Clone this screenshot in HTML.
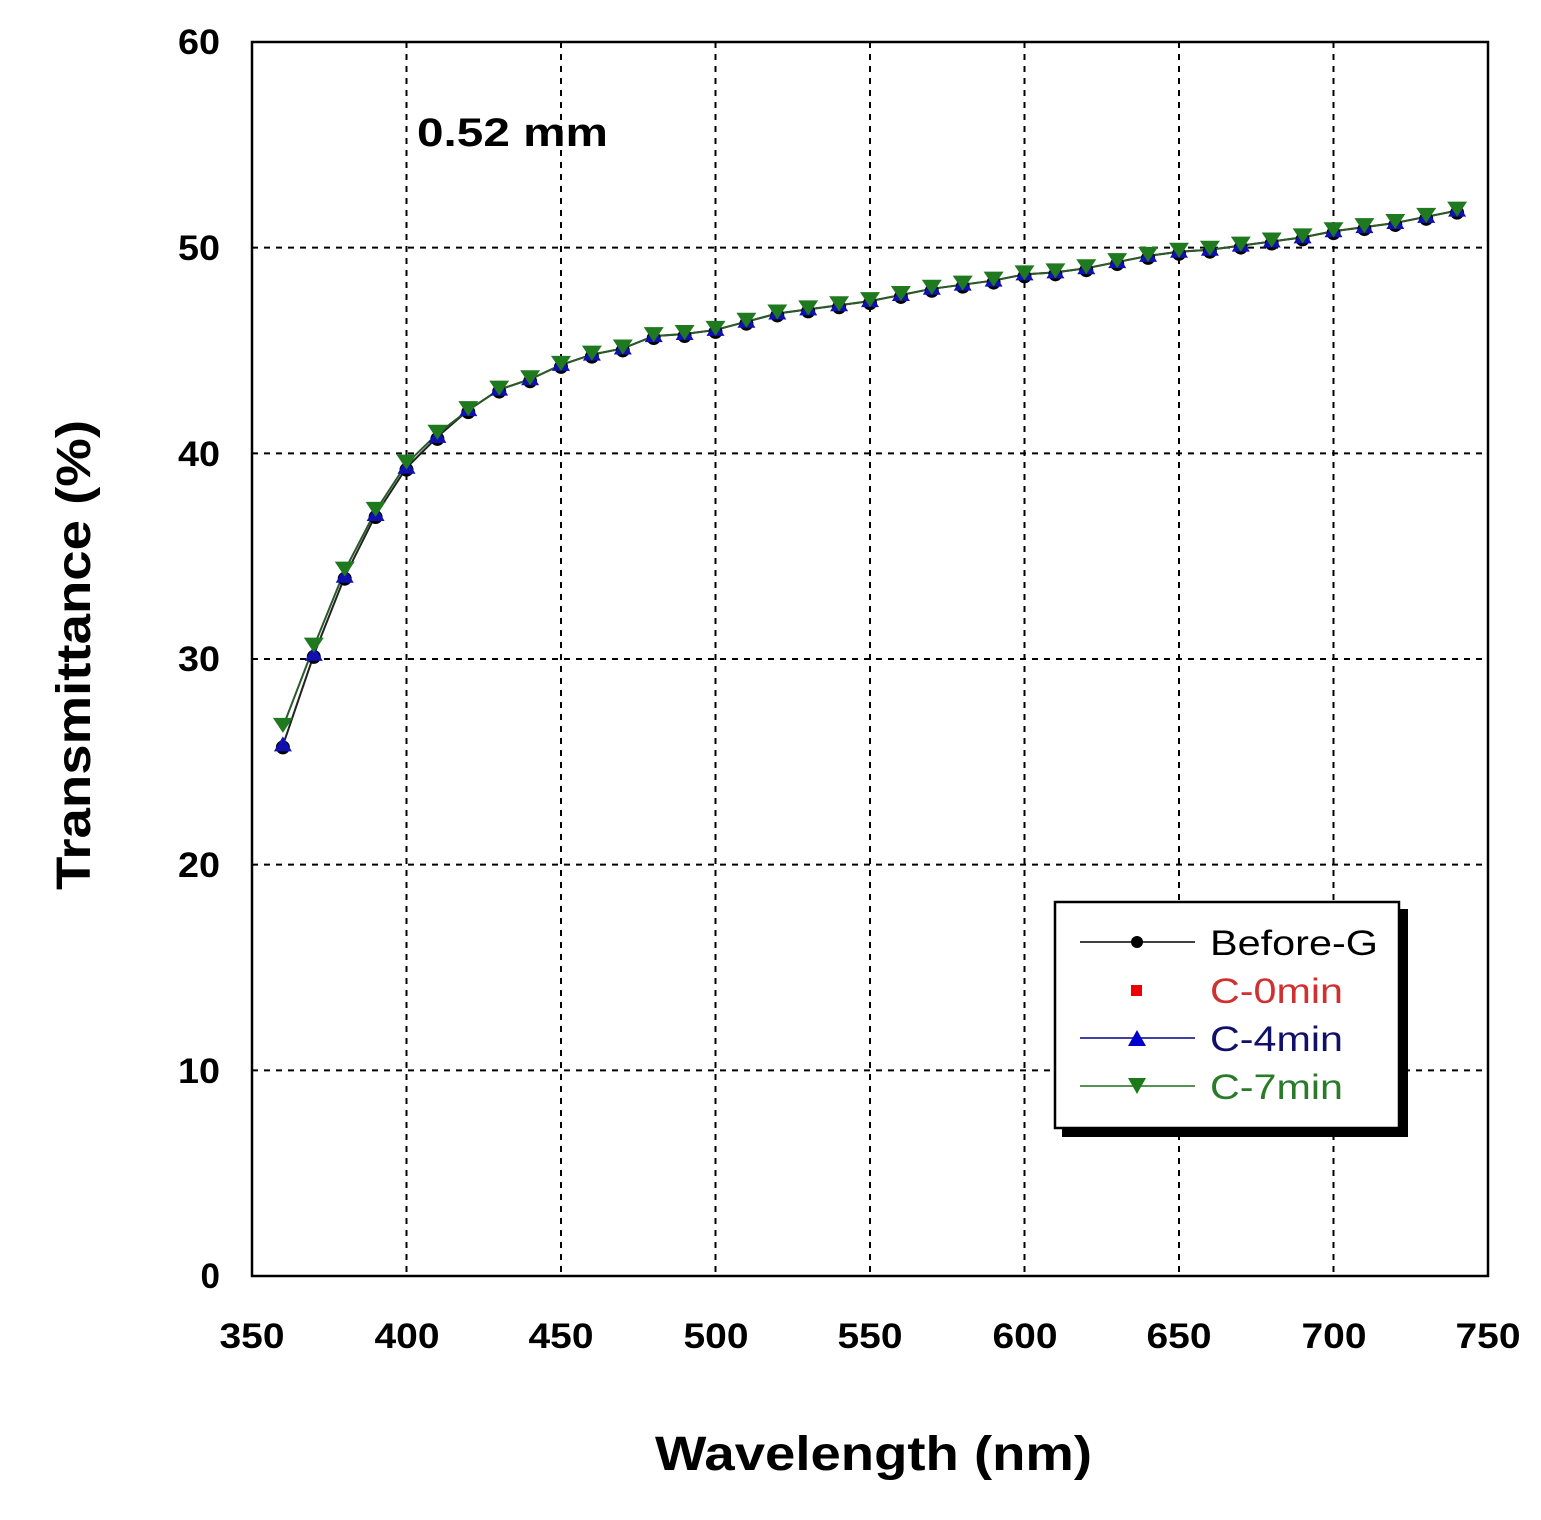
<!DOCTYPE html>
<html><head><meta charset="utf-8"><style>
html,body{margin:0;padding:0;background:#fff;}
svg text{font-family:"Liberation Sans",Arial,sans-serif;font-weight:bold;}
</style></head><body>
<svg id="s" width="1541" height="1515" viewBox="0 0 1541 1515" xmlns="http://www.w3.org/2000/svg">
<rect width="1541" height="1515" fill="#fff"/>
<g id="grid"></g>
<rect x="252" y="42" width="1236" height="1234" fill="none" stroke="#000" stroke-width="2.5"/>
<g font-size="35" text-anchor="end">
<text x="220" y="54" textLength="42" lengthAdjust="spacingAndGlyphs">60</text><text x="220" y="260" textLength="42" lengthAdjust="spacingAndGlyphs">50</text><text x="220" y="466" textLength="42" lengthAdjust="spacingAndGlyphs">40</text>
<text x="220" y="671" textLength="42" lengthAdjust="spacingAndGlyphs">30</text><text x="220" y="877" textLength="42" lengthAdjust="spacingAndGlyphs">20</text><text x="220" y="1083" textLength="42" lengthAdjust="spacingAndGlyphs">10</text><text x="220" y="1288">0</text>
</g>
<g font-size="35" text-anchor="middle">
<text x="252" y="1348" textLength="65" lengthAdjust="spacingAndGlyphs">350</text><text x="407" y="1348" textLength="65" lengthAdjust="spacingAndGlyphs">400</text><text x="561" y="1348" textLength="65" lengthAdjust="spacingAndGlyphs">450</text>
<text x="716" y="1348" textLength="65" lengthAdjust="spacingAndGlyphs">500</text><text x="870" y="1348" textLength="65" lengthAdjust="spacingAndGlyphs">550</text><text x="1025" y="1348" textLength="65" lengthAdjust="spacingAndGlyphs">600</text>
<text x="1179" y="1348" textLength="65" lengthAdjust="spacingAndGlyphs">650</text><text x="1334" y="1348" textLength="65" lengthAdjust="spacingAndGlyphs">700</text><text x="1488" y="1348" textLength="65" lengthAdjust="spacingAndGlyphs">750</text>
</g>
<text x="655" y="1470" font-size="48" textLength="437" lengthAdjust="spacingAndGlyphs">Wavelength (nm)</text>
<text transform="translate(90,890) rotate(-90)" font-size="48" textLength="470" lengthAdjust="spacingAndGlyphs">Transmittance (%)</text>
<text x="417" y="146" font-size="40" textLength="191" lengthAdjust="spacingAndGlyphs">0.52 mm</text>
<g id="series"></g>
<rect x="1062" y="909" width="346" height="228" fill="#000"/>
<rect x="1055" y="902" width="344" height="226" fill="#fff" stroke="#000" stroke-width="2.5"/>
<line x1="1080" y1="942" x2="1195" y2="942" stroke="#000" stroke-width="1.5"/><circle cx="1137" cy="942" r="6" fill="#000"/>
<rect x="1131" y="985" width="11" height="11" fill="#e00"/>
<line x1="1080" y1="1038" x2="1195" y2="1038" stroke="#00008b" stroke-width="1.5"/><path d="M1137 1030 L1146 1046 L1128 1046Z" fill="#0000cc"/>
<line x1="1080" y1="1086" x2="1195" y2="1086" stroke="#1f6f1f" stroke-width="1.5"/><path d="M1137 1094 L1146 1078 L1128 1078Z" fill="#1a7a1a"/>
<g font-size="35">
<text x="1210" y="955" style="font-weight:normal" fill="#000" textLength="168" lengthAdjust="spacingAndGlyphs">Before-G</text>
<text x="1210" y="1003" style="font-weight:normal" fill="#d03030" textLength="133" lengthAdjust="spacingAndGlyphs">C-0min</text>
<text x="1210" y="1051" style="font-weight:normal" fill="#10106a" textLength="133" lengthAdjust="spacingAndGlyphs">C-4min</text>
<text x="1210" y="1099" style="font-weight:normal" fill="#2a7a2a" textLength="133" lengthAdjust="spacingAndGlyphs">C-7min</text>
</g>
</svg>
<script>
function X(w){return 252+(w-350)*1236/400;}
function Y(t){return 1276-t*1234/60;}
var g=document.getElementById('grid'),h='';
for(var w=400;w<750;w+=50)h+='<line x1="'+X(w)+'" y1="42" x2="'+X(w)+'" y2="1276" stroke="#000" stroke-width="2" stroke-dasharray="6,6"/>';
for(var t=10;t<60;t+=10)h+='<line x1="252" y1="'+Y(t)+'" x2="1488" y2="'+Y(t)+'" stroke="#000" stroke-width="2" stroke-dasharray="6,6"/>';
g.innerHTML=h;
var d=[25.8,30.2,34,37,39.3,40.8,42.1,43.1,43.6,44.3,44.8,45.1,45.7,45.8,46,46.4,46.8,47,47.2,47.4,47.7,48,48.2,48.4,48.7,48.8,49,49.3,49.6,49.8,49.9,50.1,50.3,50.5,50.8,51,51.2,51.5,51.8];
var gr=d.slice();gr[0]=26.7;gr[1]=30.6;gr[2]=34.3;gr[3]=37.2;gr[4]=39.5;gr[5]=40.95;
var s='';
function pts(a){return a.map(function(v,i){return X(360+10*i)+','+Y(v)}).join(' ');}
s+='<polyline points="'+pts(d)+'" fill="none" stroke="#222" stroke-width="2"/>';
s+='<polyline points="'+pts(gr)+'" fill="none" stroke="#2a5a2a" stroke-width="2"/>';
d.forEach(function(v,i){var x=X(360+10*i),y=Y(v);
s+='<circle cx="'+x+'" cy="'+(y+2)+'" r="7" fill="#000"/>';
s+='<path d="M'+x+' '+(y-9)+' L'+(x+9)+' '+(y+6)+' L'+(x-9)+' '+(y+6)+'Z" fill="#1010b0"/>';});
gr.forEach(function(v,i){var x=X(360+10*i),y=Y(v);
s+='<path d="M'+x+' '+(y+6)+' L'+(x+10)+' '+(y-9)+' L'+(x-10)+' '+(y-9)+'Z" fill="#1f7a1f"/>';});
document.getElementById('series').innerHTML=s;
</script>
</body></html>
